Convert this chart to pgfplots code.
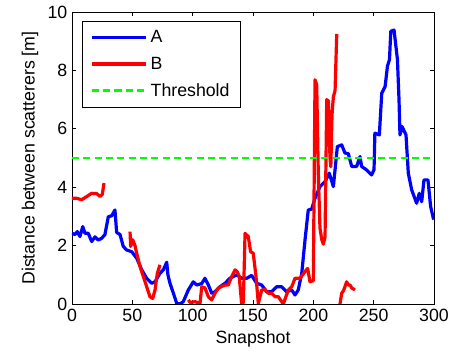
\documentclass[border=0pt]{standalone}
\usepackage{pgfplots}
\pgfplotsset{compat=1.18}
\usepackage{fontspec}
\setmainfont{Liberation Sans}
\definecolor{mblue}{RGB}{0,0,255}
\definecolor{mred}{RGB}{255,0,0}
\definecolor{mgreen}{RGB}{0,255,0}
\begin{document}
\begin{tikzpicture}
\begin{axis}[
  name=ax,
  scale only axis,
  width=271.5pt, height=219pt,
  xmin=0, xmax=300, ymin=0, ymax=10,
  xtick={0,50,...,300}, ytick={0,2,...,10},
  tick align=inside,
  major tick length=3pt,
  axis line style={line width=0.6pt},
  every tick/.style={line width=0.5pt, black},
  /pgf/number format/assume math mode=true,
  tick label style={font=\fontsize{13.3}{15}\selectfont},
  label style={font=\fontsize{13.3}{15}\selectfont},
  xlabel={Snapshot},
  ylabel={Distance between scatterers [m]},
  unbounded coords=jump,
  legend cell align=left,
  legend style={at={(0.027,0.970)}, anchor=north west, draw=black, line width=0.6pt,
    font=\fontsize{13.3}{15}\selectfont, row sep=5.2pt, inner xsep=6pt, inner ysep=5pt},
  legend image code/.code={\draw[#1] (0pt,0pt) -- (41pt,0pt);},
]
\addplot[mblue, line width=2.4pt, line join=round] table {
x y
0 2.42
2.5 2.38
4.4 2.48
6.6 2.31
8.9 2.65
10.8 2.42
13.5 2.42
16.3 2.14
19.1 2.3
21.8 2.19
24.6 2.25
27.3 2.38
30.1 2.99
32.9 3.02
35.6 3.22
37 2.45
39.8 2.38
42.5 1.97
45.3 1.85
49.5 1.79
53.6 1.57
57.8 1.17
61.9 0.88
66 0.71
68.8 0.76
72.9 1.05
75.7 1.17
78.5 1.43
79.5 1.0
81.2 0.71
84 0.37
86.8 0.02
89.5 0.0
92.2 0.08
96.4 0.48
100.5 0.76
103.3 0.65
107.5 0.7
110.2 0.88
113 0.65
115.8 0.37
118.5 0.42
122.6 0.59
126.8 0.71
130.9 0.88
136.5 1.0
140.6 0.88
144.8 0.88
148.9 0.98
153 0.71
157.2 0.65
161.3 0.42
165.5 0.42
169.6 0.59
173.8 0.59
177.9 0.42
182.1 0.48
184.8 0.31
187.5 0.48
190.4 1.05
193.1 2.19
195.8 3.22
198.6 3.25
201.4 3.62
205.5 4.02
209.7 4.19
213.2 4.48
216.6 4.02
219.9 5.39
223.5 5.45
226.2 5.17
229 5.15
231.8 4.71
235.9 4.71
238.7 5.05
240 4.71
244.2 4.59
248.3 4.42
250.3 4.6
251 5.85
254.7 5.79
256.7 7.22
259.5 7.45
261.4 8.14
263.1 8.37
264.2 9.34
266.9 9.38
269.7 8.37
271 7.0
271.8 5.79
273.5 6.08
276.8 5.79
278.7 4.48
281.5 3.91
285.6 3.45
287.8 3.79
289.8 3.5
291.7 4.25
295 4.25
297.2 3.34
299.4 2.94
300 2.9
};
\addlegendentry{A}
\addplot[mred, line width=2.4pt, line join=round] table {
x y
0 3.62
3.9 3.62
8 3.57
12.2 3.68
16.3 3.79
20.5 3.78
23.2 3.68
25.1 3.75
26.5 4.14
nan nan
48.1 2.48
48.6 1.97
50.3 2.2
52.2 2.0
53.6 1.74
56.4 1.28
59.1 0.94
61.9 0.59
64.6 0.25
66.9 0.19
68.8 0.48
70.7 1.05
72.9 1.34
nan nan
96.4 0.14
98 0.05
101.9 0.08
106.1 0.02
107.5 0.59
110.2 0.55
113 0.25
115.8 0.14
118.5 0.37
121.2 0.54
124 0.6
126.8 0.65
129.5 0.65
132.3 0.94
135.1 1.17
137 1.1
138.6 0.94
140.6 0.0
142 0.05
143.4 2.42
146.1 2.31
148 1.79
150.2 1.74
152.5 0.94
154.4 0.02
157.2 0.48
159.9 0.5
162.7 0.37
165.5 0.37
168.2 0.25
171 0.25
175.1 0.0
179.3 0.48
182.1 0.59
184.8 0.88
188.9 0.88
193.1 1.11
195.3 1.22
197.2 0.76
200 0.8
201.4 7.68
202.8 7.5
204.1 4.5
205.5 2.6
207 2.2
208.3 2.05
209.7 2.3
211.1 7.0
212.5 6.95
213.8 5.0
214.5 4.7
215.5 6.5
216.6 7.1
218 7.3
219.4 9.25
nan nan
222.1 0.0
223.5 0.37
224.9 0.45
226.2 0.59
227.6 0.76
229 0.65
230.4 0.65
231.8 0.55
234.5 0.48
};
\addlegendentry{B}
\addplot[mgreen, line width=2.2pt, dash pattern=on 5.3pt off 3.2pt] table {
x y
0 5
300 5
};
\addlegendentry{Threshold}
\end{axis}
\pgfresetboundingbox
\path ([shift={(-54pt,-39pt)}]ax.south west) rectangle ([shift={(15pt,9pt)}]ax.north east);
\end{tikzpicture}
\end{document}
